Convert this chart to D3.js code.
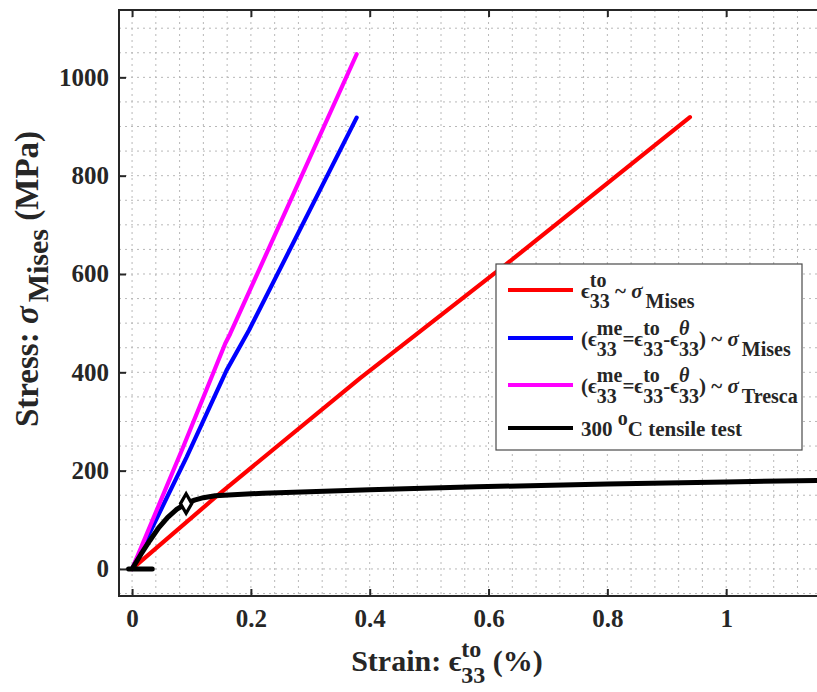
<!DOCTYPE html>
<html><head><meta charset="utf-8">
<script src="https://cdn.jsdelivr.net/npm/d3@7/dist/d3.min.js"></script>
<style>
html,body{margin:0;padding:0;background:#fff;}
svg text{font-family:"Liberation Serif","Times New Roman",serif;font-weight:bold;fill:#262626;white-space:pre;}
</style></head>
<body><svg id="c" width="817" height="692"></svg>
<script>
// ---- data ----
const redX = [0, 0.148, 0.384, 0.631, 0.939];
const redY = [0, 154, 388, 621, 919];
const blueX = [0, 0.092, 0.159, 0.197, 0.378];
const blueY = [0, 228, 404, 486, 918];
const magX = [0, 0.086, 0.157, 0.165, 0.378];
const magY = [0, 248, 459, 478, 1047];
const blackX = [0.034, -0.006, 0, 0.015, 0.03, 0.045, 0.06, 0.075, 0.092, 0.105, 0.12, 0.14, 0.17, 0.221, 0.4, 0.58, 0.8, 1.0, 1.2];
const blackY = [0, 0, 0, 30, 58, 84, 105, 121, 134, 140, 145, 149, 151, 154, 161, 167, 173, 177, 181];
const markerX = [0.091];
const markerY = [133];
const xTicks = [0, 0.2, 0.4, 0.6, 0.8, 1];
const xTickLabels = ["0", "0.2", "0.4", "0.6", "0.8", "1"];
const yTicks = [0, 200, 400, 600, 800, 1000];
const yTickLabels = ["0", "200", "400", "600", "800", "1000"];
const seriesColors = ["#ff0000", "#0000ff", "#ff00ff", "#000000"];

const svg = d3.select("#c");
const L = 119, T = 10, B = 596, R = 845;
const x = d3.scaleLinear().domain([-0.022, 1.2]).range([L, R]);
const y = d3.scaleLinear().domain([-55, 1137]).range([B, T]);

svg.append("defs").append("clipPath").attr("id", "clip")
  .append("rect").attr("x", L).attr("y", T).attr("width", R - L).attr("height", B - T);

// grid (minor dotted)
const grid = svg.append("g").attr("stroke", "#b8b8b8").attr("stroke-width", 1).attr("stroke-dasharray", "2,4");
d3.range(0, 1.2001, 0.04).forEach(v => {
  grid.append("line").attr("x1", x(v)).attr("x2", x(v)).attr("y1", T).attr("y2", B);
});
d3.range(-50, 1101, 50).forEach(v => {
  grid.append("line").attr("x1", L).attr("x2", R).attr("y1", y(v)).attr("y2", y(v));
});

// lines
const plot = svg.append("g").attr("clip-path", "url(#clip)");
const line = d3.line().x(d => x(d[0])).y(d => y(d[1]));
const series = [
  [redX, redY, 4.2],
  [blueX, blueY, 4.2],
  [magX, magY, 4.2],
  [blackX, blackY, 5]
];
series.forEach((s, i) => {
  plot.append("path").datum(s[0].map((v, j) => [v, s[1][j]]))
    .attr("d", line).attr("fill", "none").attr("stroke", seriesColors[i])
    .attr("stroke-width", s[2]).attr("stroke-linejoin", "round").attr("stroke-linecap", "round");
});
plot.selectAll(".mk").data(markerX.map((v, j) => [v, markerY[j]])).enter().append("path")
  .attr("transform", d => `translate(${x(d[0])},${y(d[1])})`)
  .attr("d", d3.symbol().type(d3.symbolDiamond).size(110))
  .attr("fill", "#fff").attr("stroke", "#000").attr("stroke-width", 3.2);

// axes
const axCol = "#262626";
const gx = svg.append("g").attr("transform", `translate(0,${B})`)
  .call(d3.axisBottom(x).tickValues(xTicks).tickSize(-7).tickPadding(13).tickFormat((d, i) => xTickLabels[i]));
const gxt = svg.append("g").attr("transform", `translate(0,${T})`)
  .call(d3.axisTop(x).tickValues(xTicks).tickSize(-7).tickFormat(""));
const gy = svg.append("g").attr("transform", `translate(${L},0)`)
  .call(d3.axisLeft(y).tickValues(yTicks).tickSize(-7).tickPadding(10).tickFormat((d, i) => yTickLabels[i]));
[gx, gxt, gy].forEach(g => {
  g.select(".domain").remove();
  g.selectAll(".tick line").attr("stroke", axCol).attr("stroke-width", 2);
  g.selectAll(".tick text").attr("fill", axCol).style("font-size", "25px")
    .style("font-family", '"Liberation Serif","Times New Roman",serif').style("font-weight", "bold");
});
svg.append("path").attr("d", `M${R},${T}H${L}V${B}H${R}`).attr("fill", "none")
  .attr("stroke", axCol).attr("stroke-width", 2);

// rich text helper
function rich(parent, segs, size, subSize, subDy, supDy) {
  const g = parent.append("g");
  let cx = 0;
  segs.forEach(s => {
    if (s.gap) cx += s.gap;
    if (s.t) {
      const el = g.append("text").attr("x", cx).attr("y", 0).style("font-size", size + "px")
        .style("font-style", s.it ? "italic" : "normal").text(s.t);
      cx += el.node().getComputedTextLength();
    }
    if (s.sub || s.sup) {
      let w = 0;
      if (s.sub) {
        const e = g.append("text").attr("x", cx).attr("y", subDy).style("font-size", subSize + "px").text(s.sub);
        w = Math.max(w, e.node().getComputedTextLength());
      }
      if (s.sup) {
        const e = g.append("text").attr("x", cx).attr("y", supDy).style("font-size", subSize + "px")
          .style("font-style", s.supIt ? "italic" : "normal").text(s.sup);
        w = Math.max(w, e.node().getComputedTextLength());
      }
      cx += w;
    }
  });
  return { g, w: cx };
}

// axis labels
const xl = rich(svg, [{ t: "Strain: ϵ", sub: "33", sup: "to" }, { t: " (%)" }], 30, 24, 12, -14);
xl.g.attr("transform", `translate(${447 - xl.w / 2},671)`);
const yl = rich(svg, [{ t: "Stress: " }, { t: "σ", it: true }, { gap: 4, sub: "Mises" }, { t: " (MPa)" }], 33, 30, 10, -14);
yl.g.attr("transform", `translate(38,${279 + yl.w / 2}) rotate(-90)`);

// legend
const lg = svg.append("g");
lg.append("rect").attr("x", 496).attr("y", 264).attr("width", 306).attr("height", 186)
  .attr("fill", "#fff").attr("stroke", "#4a4a4a").attr("stroke-width", 1.2);
const legendRows = [
  [{ t: "ϵ", sub: "33", sup: "to" }, { t: " ~ " }, { t: "σ", it: true }, { gap: 3, sub: "Mises" }],
  [{ t: "(ϵ", sub: "33", sup: "me" }, { t: "=ϵ", sub: "33", sup: "to" }, { t: "-ϵ", sub: "33", sup: "θ", supIt: true }, { t: ") ~ " }, { t: "σ", it: true }, { gap: 3, sub: "Mises" }],
  [{ t: "(ϵ", sub: "33", sup: "me" }, { t: "=ϵ", sub: "33", sup: "to" }, { t: "-ϵ", sub: "33", sup: "θ", supIt: true }, { t: ") ~ " }, { t: "σ", it: true }, { gap: 3, sub: "Tresca" }],
  [{ t: "300 ", sup: "o" }, { t: "C tensile test" }]
];
const rowY = [290, 338, 385, 428];
legendRows.forEach((segs, i) => {
  lg.append("line").attr("x1", 508).attr("x2", 573).attr("y1", rowY[i]).attr("y2", rowY[i])
    .attr("stroke", seriesColors[i]).attr("stroke-width", 4.2);
  const r = rich(lg, segs, 21, 20, 10, -11);
  r.g.attr("transform", `translate(581,${rowY[i] + 8})`);
});
</script></body></html>
